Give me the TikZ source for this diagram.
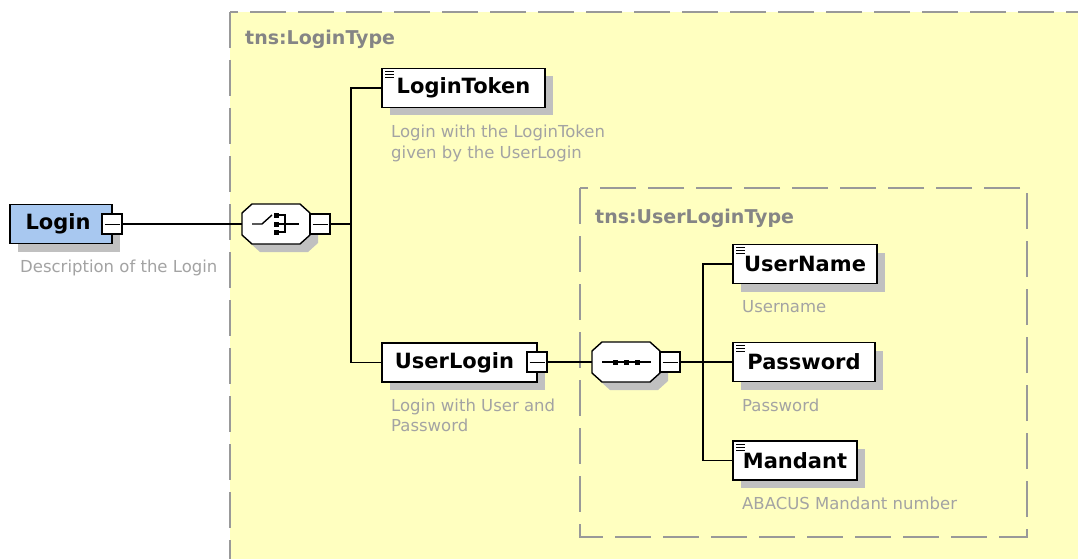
\documentclass[tikz,border=0pt]{standalone}
\usepackage{fontspec}
\setmainfont{DejaVu Sans}
\definecolor{bgyellow}{HTML}{FFFFC0}
\definecolor{dashgray}{HTML}{999999}
\definecolor{labgray}{HTML}{858585}
\definecolor{descgray}{HTML}{A3A3A3}
\definecolor{shadowgray}{HTML}{C0C0C0}
\definecolor{loginblue}{HTML}{A8C8F0}
\usetikzlibrary{shadows}
\tikzset{
  typebox/.style={draw=dashgray, line width=2pt, dash pattern=on 36pt off 12pt, fill=bgyellow},
  typelabel/.style={anchor=base west, inner sep=0pt, text=labgray, font=\fontsize{19}{22}\selectfont\bfseries},
  elem/.style={draw=black, fill=white, line width=1.4pt, minimum height=39pt, inner sep=0pt,
    font=\fontsize{21}{24}\selectfont\bfseries,
    general shadow={fill=shadowgray, shadow xshift=8pt, shadow yshift=-8pt}},
  minusbox/.style={draw=black, fill=white, line width=1.2pt, minimum size=20pt, inner sep=0pt,
    path picture={\draw[line width=1pt] ([xshift=-7.5pt]path picture bounding box.center) -- ([xshift=7.5pt]path picture bounding box.center);}},
  compo/.style={rectangle, minimum width=68pt, minimum height=40pt, inner sep=0pt},
  octo/.style={draw=black, fill=white, line width=1.4pt},
  desc/.style={anchor=base west, inner sep=0pt, text=descgray, font=\fontsize{16.5}{20}\selectfont},
  conn/.style={draw=black, line width=1.4pt},
  sym/.style={line width=1.4pt},
  dot/.style={fill=black, draw=none}
}
\newcommand{\elemicon}[1]{%
  \foreach \dy in {4,7,10}{\draw[line width=1.1pt] ([xshift=4pt,yshift=-\dy pt]#1.north west) -- ++(9pt,0);}}
\newcommand{\octopath}{(-34,-11) -- (-24,-20) -- (24,-20) -- (34,-11) -- (34,11) -- (24,20) -- (-24,20) -- (-34,11) -- cycle}
\newcommand{\drawocto}[1]{%
  \begin{scope}[shift={(#1.center)}]
    \fill[shadowgray] [shift={(8,8)}] \octopath;
    \draw[octo] \octopath;
  \end{scope}}
\begin{document}
\begin{tikzpicture}[x=1pt,y=-1pt]
\useasboundingbox (0,0) rectangle (1078,559);
\clip (0,0) rectangle (1078,559);
\fill[white] (0,0) rectangle (1078,559);
% type boxes
\draw[typebox] (230,12) rectangle (1110,600);
\node[typelabel] (lt) at (245,45) {tns:LoginType};
\draw[typebox] (580,188) rectangle (1027,537);
\node[typelabel] (ult) at (595,223) {tns:UserLoginType};

% Login
\node[elem, fill=loginblue, minimum width=102pt] (login) at (61,224) {Login\hspace*{6pt}};
\node[minusbox] (loginm) at (112,224) {};
\node[desc] (logind) at (20,272) {Description of the Login};

% choice compositor
\node[compo] (choice) at (276,224) {};
\drawocto{choice}
\node[minusbox] (choicem) at (320,224) {};
\begin{scope}[shift={(choice.center)}]
  \draw[sym] (-24,0) -- (-14,0) -- (-4,-9);
  \foreach \dy in {-9,0,8}{\fill[dot] (-2.5,\dy-2.5) rectangle ++(5,5);}
  \draw[sym] (0,-9) -- (9,-9) -- (9,8) -- (0,8);
  \draw[sym] (0,0) -- (23,0);
\end{scope}

% LoginToken
\node[elem, minimum width=163pt] (logintoken) at (463.5,88) {LoginToken};
\elemicon{logintoken}
\node[desc] (logintokend1) at (391,138) {Login with the LoginToken};
\node[desc] (logintokend2) at (391,158) {given by the UserLogin};

% UserLogin
\node[elem, minimum width=155pt] (userlogin) at (459.5,362.5) {UserLogin\hspace*{10pt}};
\node[minusbox] (userloginm) at (537,362) {};
\node[desc] (userlogind1) at (391,411) {Login with User and};
\node[desc] (userlogind2) at (391,431) {Password};

% sequence compositor
\node[compo] (seq) at (626,362) {};
\drawocto{seq}
\node[minusbox] (seqm) at (670,362) {};
\begin{scope}[shift={(seq.center)}]
  \draw[sym] (-24,0) -- (25,0);
  \foreach \dx in {-11,0,11}{\fill[dot] (\dx-2.5,-2.5) rectangle ++(5,5);}
\end{scope}

% children of UserLoginType
\node[elem, minimum width=144pt] (username) at (805,264) {UserName};
\elemicon{username}
\node[desc] (usernamed) at (742,312) {Username};
\node[elem, minimum width=142pt] (password) at (804,362) {Password};
\elemicon{password}
\node[desc] (passwordd) at (742,411) {Password};
\node[elem, minimum width=124pt] (mandant) at (795,460.5) {Mandant};
\elemicon{mandant}
\node[desc] (mandantd) at (742,509) {ABACUS Mandant number};

% connectors
\coordinate (bus1) at (351,224);
\coordinate (bus2) at (703,362);
\draw[conn] (loginm.east) -- (choice.west);
\draw[conn] (choicem.east) -- (bus1);
\draw[conn] (logintoken.west) -| (bus1) |- (userlogin.west);
\draw[conn] (userloginm.east) -- (seq.west);
\draw[conn] (seqm.east) -- (bus2);
\draw[conn] (username.west) -| (bus2) |- (mandant.west);
\draw[conn] (bus2) -- (password.west);
\end{tikzpicture}
\end{document}
